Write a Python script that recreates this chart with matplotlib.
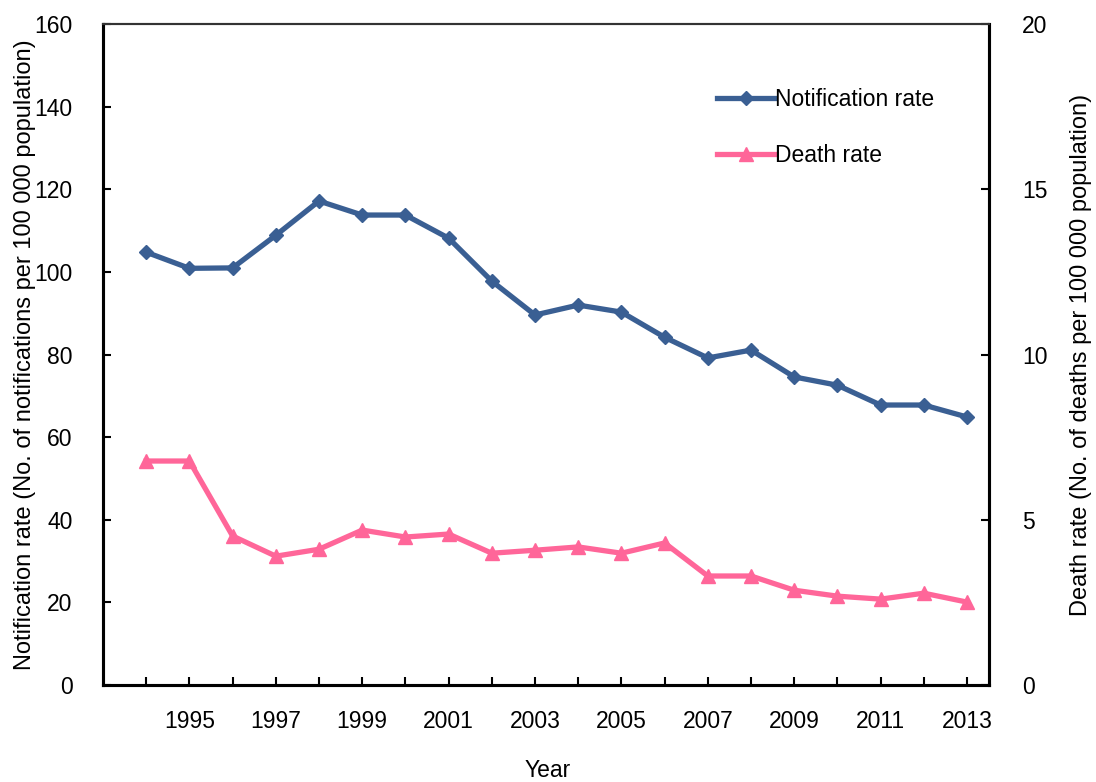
import matplotlib
matplotlib.use('Agg')
import matplotlib.pyplot as plt

plt.rcParams['font.family'] = ['Liberation Sans', 'DejaVu Sans']

years = list(range(1994, 2014))
notification_rate = [104.8, 100.9, 101.0, 108.9, 117.2, 113.8, 113.8, 108.2, 97.8, 89.6,
                     92.0, 90.3, 84.2, 79.2, 81.1, 74.6, 72.6, 67.8, 67.8, 64.9]
death_rate = [6.78, 6.78, 4.51, 3.90, 4.11, 4.69, 4.48, 4.57, 3.99, 4.08,
              4.18, 3.99, 4.30, 3.30, 3.30, 2.87, 2.69, 2.60, 2.78, 2.51]

blue = '#3A5F93'
pink = '#FF6699'

fig = plt.figure(figsize=(10.96, 7.82), dpi=100)
ax = fig.add_axes([0.094, 0.124, 0.808, 0.845])
ax2 = ax.twinx()

l1, = ax.plot(years, notification_rate, color=blue, lw=3.8, marker='D', ms=7,
              label='Notification rate')
l2, = ax2.plot(years, death_rate, color=pink, lw=3.8, marker='^', ms=10,
               label='Death rate')

ax.set_xlim(1993, 2013.5)
ax.set_ylim(0, 160)
ax2.set_ylim(0, 20)
ax.set_yticks(range(0, 161, 20))
ax2.set_yticks(range(0, 21, 5))
ax.set_xticks(years)
ax.set_xticklabels([str(y) if y % 2 == 1 else '' for y in years])

fs = 16.5
ax.tick_params(axis='x', direction='in', length=6, width=1.5, labelsize=fs, pad=18)
ax.tick_params(axis='y', direction='in', length=6, width=1.5, labelsize=fs, pad=22)
ax2.tick_params(axis='y', direction='in', length=6, width=1.5, labelsize=fs, pad=24)

for a in (ax, ax2):
    for s in ['left', 'right', 'bottom']:
        a.spines[s].set_linewidth(2.2)
    a.spines['top'].set_linewidth(1.5)
    a.spines['top'].set_color('#333333')

fig.text(0.5, 0.0, 'Year', ha='center', va='bottom', fontsize=fs)
ax.set_ylabel('Notification rate (No. of notifications per 100 000 population)', fontsize=17, labelpad=-1)
ax2.set_ylabel('Death rate (No. of deaths per 100 000 population)', fontsize=17, labelpad=16)

ax.legend(handles=[l1, l2], loc='upper left', bbox_to_anchor=(0.67, 0.935), frameon=False,
          fontsize=fs, labelspacing=1.45, handlelength=2.5, handletextpad=0.05)

fig.savefig('out.png', dpi=100)
